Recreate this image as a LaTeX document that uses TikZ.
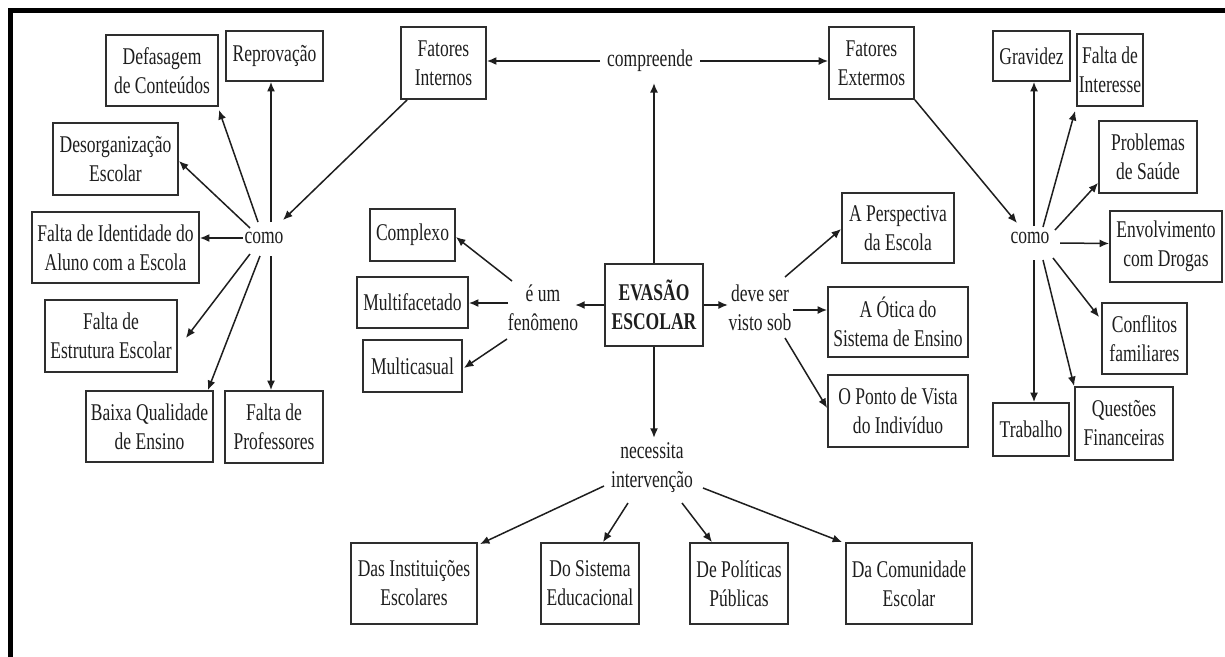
\documentclass[tikz,border=0pt]{standalone}
\usepackage{fontspec}
\setmainfont{Liberation Serif}[FakeStretch=0.73]
\usetikzlibrary{arrows.meta,calc}
\definecolor{ink}{HTML}{1E1E1E}
\definecolor{edge}{HTML}{2E2E2E}
\newcommand\dfont{\fontsize{24}{29}\selectfont}
\begin{document}
\begin{tikzpicture}[x=1pt,y=-1pt,
  box/.style={draw=edge, line width=1.8pt, align=center, inner sep=0pt, font=\dfont, text=ink},
  lbl/.style={align=center, inner sep=5pt, font=\dfont, text=ink},
  arr/.style={draw=ink, line width=1.5pt, -{Latex[length=9.5pt,width=8pt]}}]
\fill[white] (0,0) rectangle (1225,656);
\useasboundingbox (0,0) rectangle (1225,656);
\draw[line width=4.6pt, line join=miter] (10.3,660) -- (10.3,10.3) -- (1230,10.3);

% left cluster
\node[box, minimum width=112pt, minimum height=71pt] (def) at (162,70.5) {Defasagem\\de Conteúdos};
\node[box, minimum width=97pt, minimum height=50pt] (rep) at (274.5,56) {Reprovação};
\node[box, minimum width=125pt, minimum height=72pt] (deso) at (115.5,159) {Desorganização\\Escolar};
\node[box, minimum width=167pt, minimum height=71pt] (ident) at (115.5,247.5) {Falta de Identidade do\\Aluno com a Escola};
\node[box, minimum width=132pt, minimum height=72pt] (estr) at (111,336) {Falta de\\Estrutura Escolar};
\node[box, minimum width=127pt, minimum height=71pt] (baixa) at (149.5,426.5) {Baixa Qualidade\\de Ensino};
\node[box, minimum width=98pt, minimum height=72pt] (prof) at (274,427) {Falta de\\Professores};
\node[lbl] (comoL) at (264,238) {como};

% top
\node[box, minimum width=85pt, minimum height=72pt] (fint) at (443.5,63) {Fatores\\Internos};
\node[lbl] (comp) at (650,61) {compreende};
\node[box, minimum width=85pt, minimum height=72pt] (fext) at (871.5,63) {Fatores\\Extermos};

% right cluster
\node[box, minimum width=77pt, minimum height=50pt] (grav) at (1031.5,56) {Gravidez};
\node[box, minimum width=66pt, minimum height=72pt] (inter) at (1110,70) {Falta de\\Interesse};
\node[box, minimum width=98pt, minimum height=72pt] (prob) at (1148,157) {Problemas\\de Saúde};
\node[box, minimum width=112pt, minimum height=71pt] (envol) at (1166,246.5) {Envolvimento\\com Drogas};
\node[lbl] (comoR) at (1030,238) {como};
\node[box, minimum width=85pt, minimum height=71pt] (confl) at (1144.5,338.5) {Conflitos\\familiares};
\node[box, minimum width=76pt, minimum height=53pt] (trab) at (1031,429.5) {Trabalho};
\node[box, minimum width=98pt, minimum height=73pt] (quest) at (1124,423.5) {Questões\\Financeiras};

% center
\node[box, minimum width=85pt, minimum height=52pt] (complexo) at (412.5,235) {Complexo};
\node[box, minimum width=111pt, minimum height=51pt] (multif) at (412.5,302.5) {Multifacetado};
\node[box, minimum width=99pt, minimum height=52pt] (multic) at (412.5,366) {Multicasual};
\node[lbl] (eum) at (543,308) {é um\\fenômeno};
\node[box, minimum width=98pt, minimum height=82pt, font=\dfont\bfseries] (evasao) at (654,305) {EVASÃO\\ESCOLAR};
\node[lbl] (deve) at (760,308) {deve ser\\visto sob};
\node[box, minimum width=112pt, minimum height=70pt] (persp) at (898,228) {A Perspectiva\\da Escola};
\node[box, minimum width=140pt, minimum height=70pt] (otica) at (898,322) {A Ótica do\\Sistema de Ensino};
\node[box, minimum width=140pt, minimum height=72pt] (ponto) at (898,411) {O Ponto de Vista\\do Indivíduo};
\node[lbl] (necess) at (652,468) {necessita\\intervenção};

% bottom
\node[box, minimum width=126pt, minimum height=81pt] (das) at (414,583.5) {Das Instituições\\Escolares};
\node[box, minimum width=98pt, minimum height=81pt] (dosis) at (590,583.5) {Do Sistema\\Educacional};
\node[box, minimum width=98pt, minimum height=81pt] (depol) at (739,583.5) {De Políticas\\Públicas};
\node[box, minimum width=126pt, minimum height=81pt] (dacom) at (909,583.5) {Da Comunidade\\Escolar};

% connectors: top
\draw[arr] ($(comp.west)+(-2,0)$) -- (comp.west -| fint.east);
\draw[arr] ($(comp.east)+(2,0)$) -- (comp.east -| fext.west);
\draw[arr] (evasao.north) -- ($(evasao.north |- comp.south)+(0,6)$);

% left cluster
\draw[arr] ($(fint.south west)+(7,0)$) -- ($(comoL)+(19,-18)$);
\draw[arr] ($(comoL)+(7,-16)$) -- ($(rep.south)+(-3.5,0)$);
\draw[arr] ($(comoL)+(-6,-16)$) -- ($(def.south east)+(0,3)$);
\draw[arr] ($(comoL)+(-14,-10)$) -- ($(deso.east)+(0,2)$);
\draw[arr] ($(comoL)+(-21,0)$) -- ($(ident.east)+(0,-9.5)$);
\draw[arr] ($(comoL)+(-14,16)$) -- ($(estr.east)+(8,2)$);
\draw[arr] ($(comoL)+(-4,18)$) -- ($(baixa.north east)+(-6,0)$);
\draw[arr] ($(comoL)+(7,18)$) -- ($(prof.north)+(-3,0)$);

% right cluster
\draw[arr] (fext.south east) -- ($(comoR)+(-13,-15)$);
\draw[arr] ($(comoR)+(4,-12)$) -- ($(grav.south)+(2.5,0)$);
\draw[arr] ($(comoR)+(13,-11)$) -- ($(inter.south west)+(-1,4)$);
\draw[arr] ($(comoR)+(25,-8)$) -- ($(prob.south west)+(0,-11)$);
\draw[arr] ($(comoR)+(30,5)$) -- ($(envol.west)+(0,-3)$);
\draw[arr] ($(comoR)+(23,20)$) -- ($(confl.north west)+(-2,15)$);
\draw[arr] ($(comoR)+(4,22)$) -- ($(trab.north)+(3,0)$);
\draw[arr] ($(comoR)+(13,22)$) -- (quest.north west);

% center
\draw[arr] (evasao.west) -- ($(eum.east)+(-8,-3)$);
\draw[arr] ($(eum)+(-31,-27)$) -- ($(complexo.east)+(0,2)$);
\draw[arr] ($(eum)+(-35,-5)$) -- ($(multif.east)+(0,0.5)$);
\draw[arr] ($(eum)+(-36,31)$) -- ($(multic.east)+(1,2)$);
\draw[arr] (evasao.east) -- ($(deve.west)+(4.5,-3)$);
\draw[arr] ($(deve)+(25,-31)$) -- ($(persp.west)+(0,1)$);
\draw[arr] ($(deve)+(33,2)$) -- ($(otica.west)+(0,-12)$);
\draw[arr] ($(deve)+(25,30)$) -- ($(ponto.west)+(0,-3)$);
\draw[arr] (evasao.south) -- (evasao.south |- necess.north);

% bottom
\draw[arr] ($(necess)+(-48,18)$) -- ($(das.north east)+(2,2)$);
\draw[arr] ($(necess)+(-24,35)$) -- ($(dosis.north)+(13,0)$);
\draw[arr] ($(necess)+(30,35)$) -- ($(depol.north)+(-27,0)$);
\draw[arr] ($(necess)+(51,20)$) -- ($(dacom.north west)+(-3,0)$);
\end{tikzpicture}
\end{document}
